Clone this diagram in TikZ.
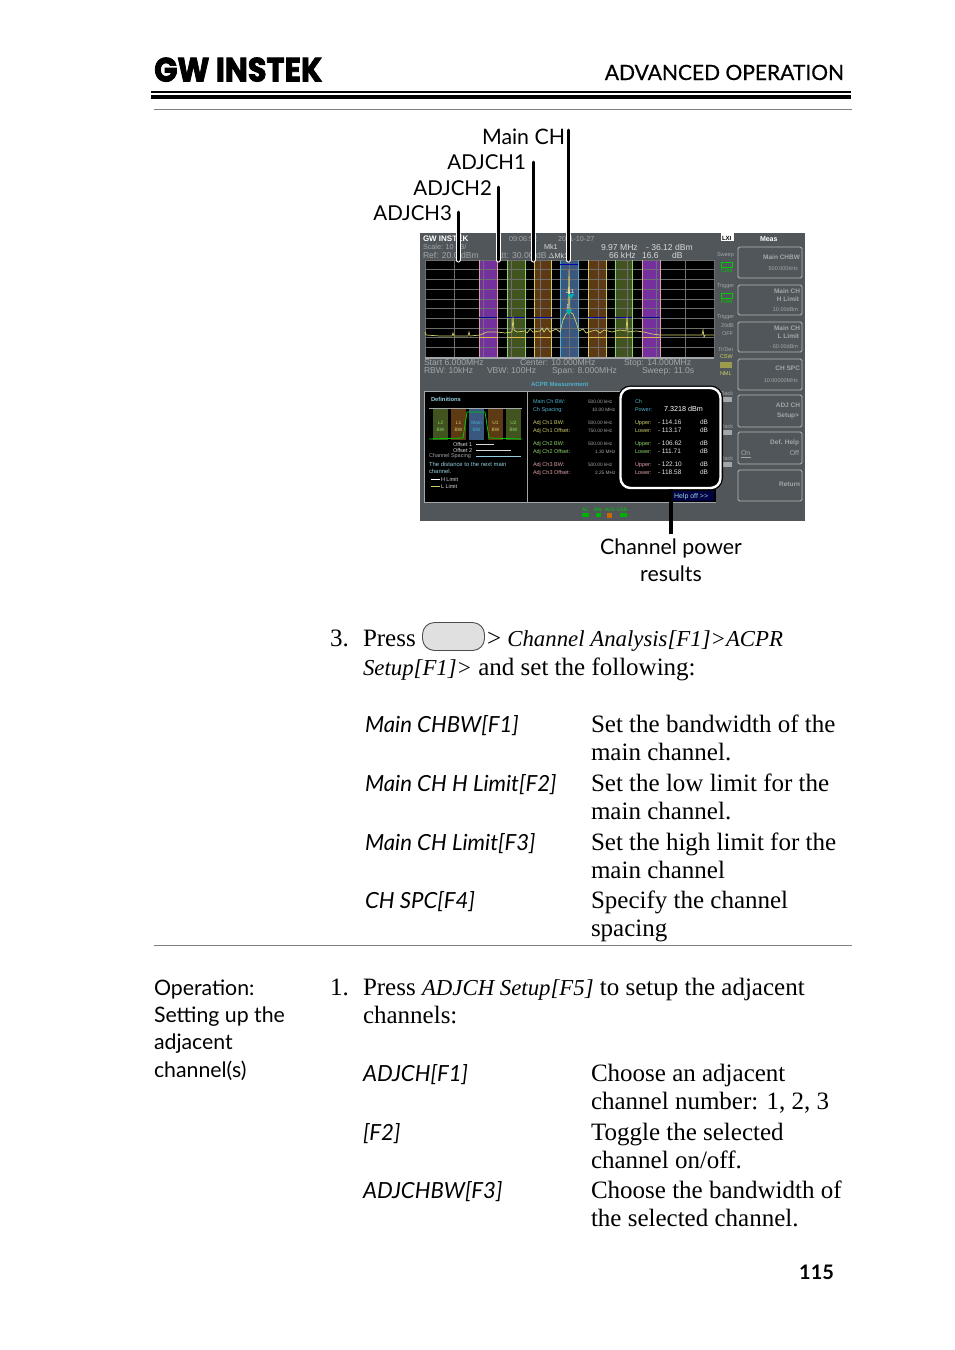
\documentclass[tikz,border=0pt]{standalone}
\usepackage{fontspec}
\setmainfont{Liberation Serif}
\newfontfamily\labfont{Lato}
\newfontfamily\hdrfont[FakeBold=0.5]{Lato}
\newfontfamily\scrfont{Liberation Sans}
\newfontfamily\logofont[BoldFeatures={FakeBold=2.5}]{Poppins}
\definecolor{scrbg}{HTML}{50565A}
\definecolor{scrtxt}{HTML}{A3A7A9}
\definecolor{keyline}{HTML}{B4B8BA}
\definecolor{cy}{HTML}{4FB0CC}
\definecolor{yl}{HTML}{CFCF6A}
\definecolor{gn}{HTML}{8CD66A}
\definecolor{pk}{HTML}{E0A0A8}
\definecolor{bpur}{HTML}{74309C}
\definecolor{bgrn}{HTML}{41531F}
\definecolor{borg}{HTML}{5E3A14}
\definecolor{bblu}{HTML}{39577F}
\definecolor{gridc}{HTML}{6E6E6E}
\newcounter{nn}
\newcommand{\lbl}[4][]{\stepcounter{nn}\node[tb,#1] (n\arabic{nn}) at (#2,#3) {#4};}
\tikzset{
 tb/.style={anchor=base west,inner sep=0pt,outer sep=0pt},
 rt/.style={anchor=base east},
 ct/.style={anchor=base},
 body/.style={font=\fontsize{25}{28}\selectfont},
 lab/.style={font=\labfont\fontsize{21.3}{26}\selectfont},
 labadj/.style={font=\labfont\fontsize{20.5}{26}\selectfont},
 labit/.style={font=\labfont\fontsize{22.2}{26}\selectfont\itshape},
 s5/.style={font=\scrfont\fontsize{5.5}{6}\selectfont,text=scrtxt},
 s7/.style={font=\scrfont\fontsize{7.2}{8}\selectfont,text=scrtxt},
 s9/.style={font=\scrfont\fontsize{8.6}{9}\selectfont,text=scrtxt},
 key/.style={draw=keyline,line width=0.9pt,rounded corners=1.5pt,fill=scrbg},
 leader/.style={line width=3pt,black,line cap=round},
 halo/.style={line width=5pt,white,line cap=round},
}
\newcommand{\iz}[1]{{\fontsize{22.8}{28}\selectfont\itshape #1}}
\begin{document}
\begin{tikzpicture}[x=1pt,y=-1pt]
\useasboundingbox (0,0) rectangle (954,1350);
\fill[white] (0,0) rectangle (954,1350);
% header
\node[anchor=base west,inner sep=0pt] (logo) at (154,81.5) {\resizebox{168pt}{24pt}{\logofont\bfseries GW INSTEK}};
\lbl[rt,font=\hdrfont\fontsize{21}{26}\selectfont]{844}{80}{ADVANCED OPERATION}
\fill[black] (151,91.3) rectangle (851,92.7);
\fill[black] (151,94.5) rectangle (851,99);
\fill[black!50] (154,108.8) rectangle (852,110);
% screen
\fill[scrbg] (420,233) rectangle (805,521);
\fill[black] (425,260) rectangle (714,357);
% bands
\fill[bpur] (479,260) rectangle (497,357);
\fill[bgrn] (507,260) rectangle (525,357);
\fill[borg] (534,260) rectangle (551.5,357);
\fill[bblu] (560,260) rectangle (578,357);
\fill[borg] (588,260) rectangle (606,357);
\fill[bgrn] (615,260) rectangle (632,357);
\fill[bpur] (642,260) rectangle (660,357);
% grid
\foreach \i in {0,...,10} \draw[gridc,line width=0.5pt] (425+28.9*\i,260) -- (425+28.9*\i,357);
\foreach \i in {0,...,10} \draw[gridc,line width=0.5pt] (425,260+9.7*\i) -- (714,260+9.7*\i);
% band edges
\foreach \a/\b/\c in {479/497/pk,507/525/gn,534/551.5/yl,560/578/cy,588/606/yl,615/632/gn,642/660/pk}{
 \draw[\c,line width=0.7pt] (\a,260) -- (\a,357) (\b,260) -- (\b,357);}
\foreach \a/\b in {479/497,507/525,534/551.5,588/606,615/632,642/660}{
 \draw[blue!60!black,line width=0.7pt] (\a,317) -- (\b,317);
 \draw[yl!70!orange,line width=0.6pt] (\a,337) -- (\b,337);}
\draw[blue!70!black,line width=0.8pt] (560,264) -- (578,264);
\draw[scrtxt,line width=1.5pt] (425,358) -- (714,358);
% trace
\draw[yl,line width=0.7pt] (425,332) -- (426,335) -- (440,336) -- (452,336) -- (453,333) -- (454,336) -- (459,336) -- (468,336) -- (469,332) -- (470,336) -- (480,335) -- (487,332) -- (497,332) -- (505,333) -- (512,332) -- (513,317) -- (514,330) -- (517,332) -- (525,331) -- (527,333) -- (530,329) -- (533,332) -- (540,331) -- (542,328) -- (544,332) -- (547,328) -- (550,332) -- (556,329) -- (560,332) -- (563,320) -- (566,314) -- (568,312) -- (569,270) -- (570,312) -- (573,314) -- (576,322) -- (579,331) -- (583,329) -- (586,333) -- (592,331) -- (596,330) -- (600,333) -- (604,330) -- (612,332) -- (620,330) -- (626,331) -- (627,317) -- (628,332) -- (636,331) -- (644,332) -- (652,334) -- (660,335) -- (680,335) -- (702,335) -- (703,330) -- (704,337) -- (705,335) -- (714,335);
\fill[teal!60!cyan] (565.5,309.5) -- (572.5,309.5) -- (569,315) -- cycle;
\fill[teal!60!cyan] (567.5,294) -- (574.5,294) -- (571,299) -- cycle;
\lbl[ct,s5,text=white]{570}{293}{$\scriptstyle\Delta$1}
\lbl[ct,s5,text=white]{568}{308}{1}
% top strip
\lbl[font=\scrfont\bfseries\fontsize{8}{9}\selectfont,text=white]{423}{241}{GW INSTEK}
\lbl[s7]{509}{241}{09:06:52}
\lbl[s7]{558}{241}{2011-10-27}
\lbl[s7]{423}{249.5}{Scale: 10 dB/}
\lbl[s9]{423}{258}{Ref: 20.0 dBm}
\lbl[s9]{496}{258}{Att: 30.00 dB}
\lbl[s7,text=white!85!black]{544}{249.5}{Mk1}
\lbl[s7,text=white!85!black]{548}{258}{$\Delta$Mk1}
\lbl[s9,text=white!85!black]{601}{250}{9.97 MHz}
\lbl[s9,text=white!85!black]{646}{250}{- 36.12 dBm}
\lbl[s9,text=white!85!black]{609}{258}{66 kHz}
\lbl[s9,text=white!85!black]{642}{258}{16.6}
\lbl[s9,text=white!85!black]{672}{258}{dB}
\lbl[font=\scrfont\bfseries\fontsize{7}{8}\selectfont,text=white]{760}{241}{Meas}
% bottom of spectrum
\lbl[s9]{424}{365}{Start 6.000MHz}
\lbl[s9]{520}{365}{Center: 10.000MHz}
\lbl[s9]{624}{365}{Stop: 14.000MHz}
\lbl[s9]{424}{373}{RBW: 10kHz}
\lbl[s9]{487}{373}{VBW: 100Hz}
\lbl[s9]{552}{373}{Span: 8.000MHz}
\lbl[s9]{642}{373}{Sweep: 11.0s}
\lbl[font=\scrfont\bfseries\fontsize{6}{7}\selectfont,text=cy]{531}{386}{ACPR Measurement}
% side indicators
\fill[white] (721,233) rectangle (734,241);
\lbl[font=\scrfont\bfseries\fontsize{6}{7}\selectfont,text=black]{722}{240}{LXI}
\foreach \nm/\yy in {Sweep/256,Trigger/287,Trigger/318}{\lbl[s5]{717}{\yy}{\nm}}
\draw[green!80!black,line width=0.9pt] (721,262) rectangle (732,267);
\lbl[s5,text=green!80!black]{721}{272}{Cont}
\draw[green!80!black,line width=0.9pt] (721,293) rectangle (732,298);
\lbl[s5,text=green!80!black]{721}{303}{Free}
\lbl[s5]{721}{327}{20dB}
\lbl[s5]{722}{335}{OFF}
\lbl[s5]{718}{351}{Tr/Det}
\lbl[s5,text=yl]{720}{358}{CSW}
\fill[yl!75!black] (720,362) rectangle (732,368);
\lbl[s5,text=yl]{720}{375}{NML}
\foreach \yy in {397,430,462}{\fill[scrtxt] (718,\yy) rectangle (732,\yy+5);
 \lbl[s5]{721}{\yy-2}{Back}}
% softkeys
\draw[key] (738,247) rectangle (802,278);
\draw[key] (738,285) rectangle (802,315);
\draw[key] (738,322) rectangle (802,352);
\draw[key] (738,359) rectangle (802,390);
\draw[key] (738,395) rectangle (802,427);
\draw[key] (738,432) rectangle (802,464);
\draw[key] (738,470) rectangle (802,501);
\tikzset{kt/.style={font=\scrfont\bfseries\fontsize{6.5}{7}\selectfont,text=scrtxt,anchor=base east}}
\lbl[kt]{800}{259}{Main CHBW}
\lbl[s5,rt]{798}{270}{500.000kHz}
\lbl[kt]{800}{293}{Main CH}
\lbl[kt]{799}{301}{H Limit}
\lbl[s5,rt]{798}{311}{10.00dBm}
\lbl[kt]{800}{330}{Main CH}
\lbl[kt]{799}{338}{L Limit}
\lbl[s5,rt]{798}{348}{- 60.00dBm}
\lbl[kt]{800}{370}{CH SPC}
\lbl[s5,rt]{798}{382}{10.00000MHz}
\lbl[kt]{800}{407}{ADJ CH}
\lbl[kt]{799}{417}{Setup>}
\lbl[kt]{799}{444}{Def. Help}
\lbl[s5,font=\scrfont\fontsize{7}{8}\selectfont]{741}{455}{On}
\lbl[s5,rt,font=\scrfont\fontsize{7}{8}\selectfont]{799}{455}{Off}
\lbl[kt]{800}{486}{Return}
\draw[scrtxt,line width=0.5pt] (741,457) -- (751,457);
% lower panels
\fill[black] (424,391) rectangle (716,502);
\draw[scrtxt,line width=0.9pt] (424,391) rectangle (527,502);
\draw[scrtxt,line width=0.9pt] (527,391) -- (716,391) (527,502) -- (716,502);
\fill[blue!25!black] (672,491) rectangle (714,501);
\lbl[s5,font=\scrfont\fontsize{7}{8}\selectfont,text=cy!60!white]{674}{498.5}{Help off >>}
% definitions
\lbl[font=\scrfont\bfseries\fontsize{5.8}{7}\selectfont,text=cy!60!white]{431}{401}{Definitions}
\fill[bgrn] (433,408) rectangle (448,440);
\fill[borg] (451,408) rectangle (466,440);
\fill[bblu] (469,408) rectangle (484,440);
\fill[borg] (488,408) rectangle (503,440);
\fill[bgrn] (506,408) rectangle (521,440);
\draw[scrtxt,line width=0.4pt] (429,408) -- (522,408);
\draw[green!80!black,line width=0.8pt] (429,439) -- (463,438) -- (467,412) -- (485,412) -- (489,438) -- (522,439);
\foreach \nm/\xx/\cc in {L2/440.5/gn,L1/458.5/yl,Main/476.5/cy,U1/495.5/yl,U2/513.5/gn}{
 \lbl[ct,s5,font=\scrfont\fontsize{4.8}{5}\selectfont,text=\cc]{\xx}{424}{\nm}
 \lbl[ct,s5,font=\scrfont\fontsize{4.8}{5}\selectfont,text=\cc]{\xx}{431}{BW}}
\lbl[s5,text=white!85!black]{453}{446.5}{Offset 1}
\lbl[s5,text=white!85!black]{453}{452}{Offset 2}
\lbl[s5,text=scrtxt]{429}{457.5}{Channel Spacing}
\draw[white!85!black,line width=0.4pt] (476,444.5) -- (494,444.5);
\draw[white!85!black,line width=0.4pt] (476,450) -- (511,450);
\draw[cy!60!white,line width=0.4pt] (476,456) -- (521,456);
\lbl[s5,font=\scrfont\fontsize{5.9}{6}\selectfont,text=cy!60!white]{429}{466}{The distance to the next main}
\lbl[s5,font=\scrfont\fontsize{5.9}{6}\selectfont,text=cy!60!white]{429}{473}{channel.}
\lbl[s5,text=white!85!black]{441}{481}{H Limit}
\lbl[s5,text=white!85!black]{441}{488}{L Limit}
\draw[white,line width=0.5pt] (431,479) -- (440,479);
\draw[yl,line width=0.5pt] (431,486) -- (440,486);
% settings list
\tikzset{v5/.style={s5,font=\scrfont\fontsize{4.8}{6}\selectfont,text=scrtxt}}
\lbl[s5,text=cy]{533}{403}{Main Ch BW:}
\lbl[s5,text=cy]{533}{411}{Ch Spacing:}
\lbl[v5]{588}{403}{500.00 kHz}
\lbl[v5]{592}{411}{10.00 MHz}
\lbl[s5,text=yl]{533}{424}{Adj Ch1 BW:}
\lbl[s5,text=yl]{533}{432}{Adj Ch1 Offset:}
\lbl[v5]{588}{424}{500.00 kHz}
\lbl[v5]{588}{432}{750.00 kHz}
\lbl[s5,text=gn]{533}{445}{Adj Ch2 BW:}
\lbl[s5,text=gn]{533}{453}{Adj Ch2 Offset:}
\lbl[v5]{588}{445}{500.00 kHz}
\lbl[v5]{595}{453}{1.30 MHz}
\lbl[s5,text=pk]{533}{466}{Adj Ch3 BW:}
\lbl[s5,text=pk]{533}{474}{Adj Ch3 Offset:}
\lbl[v5]{588}{466}{500.00 kHz}
\lbl[v5]{595}{474}{2.25 MHz}
% results box
\node[draw=black,line width=5pt,minimum width=100pt,minimum height=100pt,rounded corners=10pt,inner sep=0pt,fill=black] (resbox) at (670.5,438) {};
\draw[white,line width=2.4pt,rounded corners=10pt] (620.5,388) rectangle (720.5,488);
\lbl[s5,text=cy]{635}{403}{Ch}
\lbl[s5,text=cy]{635}{411}{Power:}
\lbl[s7,text=white]{664}{411}{7.3218 dBm}
\foreach \yy/\cc/\u/\l in {424/yl/{- 114.16}/{- 113.17},445/gn/{- 106.62}/{- 111.71},466/pk/{- 122.10}/{- 118.58}}{
 \lbl[s5,text=\cc]{635}{\yy}{Upper:}
 \lbl[s5,text=\cc]{635}{\yy+8}{Lower:}
 \lbl[s7,font=\scrfont\fontsize{6.5}{7}\selectfont,text=white!90!black]{658}{\yy}{\u}
 \lbl[s7,font=\scrfont\fontsize{6.5}{7}\selectfont,text=white!90!black]{658}{\yy+8}{\l}
 \lbl[s7,font=\scrfont\fontsize{6.5}{7}\selectfont,text=white!90!black]{700}{\yy}{dB}
 \lbl[s7,font=\scrfont\fontsize{6.5}{7}\selectfont,text=white!90!black]{700}{\yy+8}{dB}}
% status icons
\lbl[s5,font=\scrfont\fontsize{5}{5}\selectfont,text=green!80!black]{582}{511}{AC}
\lbl[s5,font=\scrfont\fontsize{5}{5}\selectfont,text=green!80!black]{594}{511}{BW}
\lbl[s5,font=\scrfont\fontsize{5}{5}\selectfont,text=green!80!black]{605}{511}{ALN}
\lbl[s5,font=\scrfont\fontsize{5}{5}\selectfont,text=green!80!black]{617}{511}{USB}
\fill[green!70!black] (582,513) rectangle (589,517);
\fill[green!70!black] (596,513) rectangle (601,517);
\fill[orange!80!black] (607,513) rectangle (612,518);
\fill[green!70!black] (620,513) rectangle (627,517);
% callout labels and leaders
\node[tb,rt,lab] (mainch) at (565,144) {Main CH};
\node[tb,rt,labadj] (adj1) at (526,169) {ADJCH1};
\node[tb,rt,labadj] (adj2) at (492,195) {ADJCH2};
\node[tb,rt,labadj] (adj3) at (452,220) {ADJCH3};
\coordinate (cmain) at (568,130); \coordinate (emain) at (568,260);
\coordinate (cadj1) at (533,162); \coordinate (eadj1) at (533,260);
\coordinate (cadj2) at (498,187); \coordinate (eadj2) at (498,260);
\coordinate (cadj3) at (458,212); \coordinate (eadj3) at (458,260);
\draw[halo] (568,234) -- (emain);
\draw[halo] (533,234) -- (eadj1);
\draw[halo] (498,234) -- (eadj2);
\draw[halo] (458,234) -- (eadj3);
\draw[leader] (cmain) -- (emain);
\draw[leader] (cadj1) -- (eadj1);
\draw[leader] (cadj2) -- (eadj2);
\draw[leader] (cadj3) -- (eadj3);
\node[tb,ct,lab] (cpow) at (671,554) {Channel power};
\node[tb,ct,lab] (cres) at (671,581) {results};
\coordinate (cpe) at (671,534);
\draw[line width=3.2pt,black] (671,489) -- (cpe);
% step 3
\lbl[body]{330}{646}{3.}
\lbl[body]{363}{646}{Press}
\node[draw=black!70,line width=0.9pt,fill=black!12,rounded corners=12pt,minimum width=62pt,minimum height=28pt,inner sep=0pt] (btn) at (453.5,636.5) {};
\lbl[body]{487}{646}{> \iz{Channel Analysis[F1]>ACPR}}
\lbl[body]{363}{675}{\iz{Setup[F1]>} and set the following:}
\lbl[labit]{365}{732}{Main CHBW[F1]}
\lbl[body]{591}{732}{Set the bandwidth of the}
\lbl[body]{591}{760}{main channel.}
\lbl[labit]{365}{791}{Main CH H Limit[F2]}
\lbl[body]{591}{791}{Set the low limit for the}
\lbl[body]{591}{819}{main channel.}
\lbl[labit]{365}{850}{Main CH Limit[F3]}
\lbl[body]{591}{850}{Set the high limit for the}
\lbl[body]{591}{878}{main channel}
\lbl[labit]{365}{908}{CH SPC[F4]}
\lbl[body]{591}{908}{Specify the channel}
\lbl[body]{591}{936}{spacing}
\fill[black!50] (154,944.8) rectangle (852,946);
% operation
\lbl[lab]{154}{995}{Operation:}
\lbl[lab]{154}{1022}{Setting up the}
\lbl[lab]{154}{1049}{adjacent}
\lbl[lab]{154}{1077}{channel(s)}
\lbl[body]{330}{995}{1.}
\lbl[body]{363}{995}{Press \iz{ADJCH Setup[F5]} to setup the adjacent}
\lbl[body]{363}{1023}{channels:}
\lbl[labit]{363}{1081}{ADJCH[F1]}
\lbl[body]{591}{1081}{Choose an adjacent}
\lbl[body]{591}{1109}{channel number: 1, 2, 3}
\lbl[labit]{363}{1140}{[F2]}
\lbl[body]{591}{1140}{Toggle the selected}
\lbl[body]{591}{1168}{channel on/off.}
\lbl[labit]{363}{1198}{ADJCHBW[F3]}
\lbl[body]{591}{1198}{Choose the bandwidth of}
\lbl[body]{591}{1226}{the selected channel.}
\lbl[rt,font=\labfont\bfseries\fontsize{20}{24}\selectfont]{834}{1279}{115}
\end{tikzpicture}
\end{document}
